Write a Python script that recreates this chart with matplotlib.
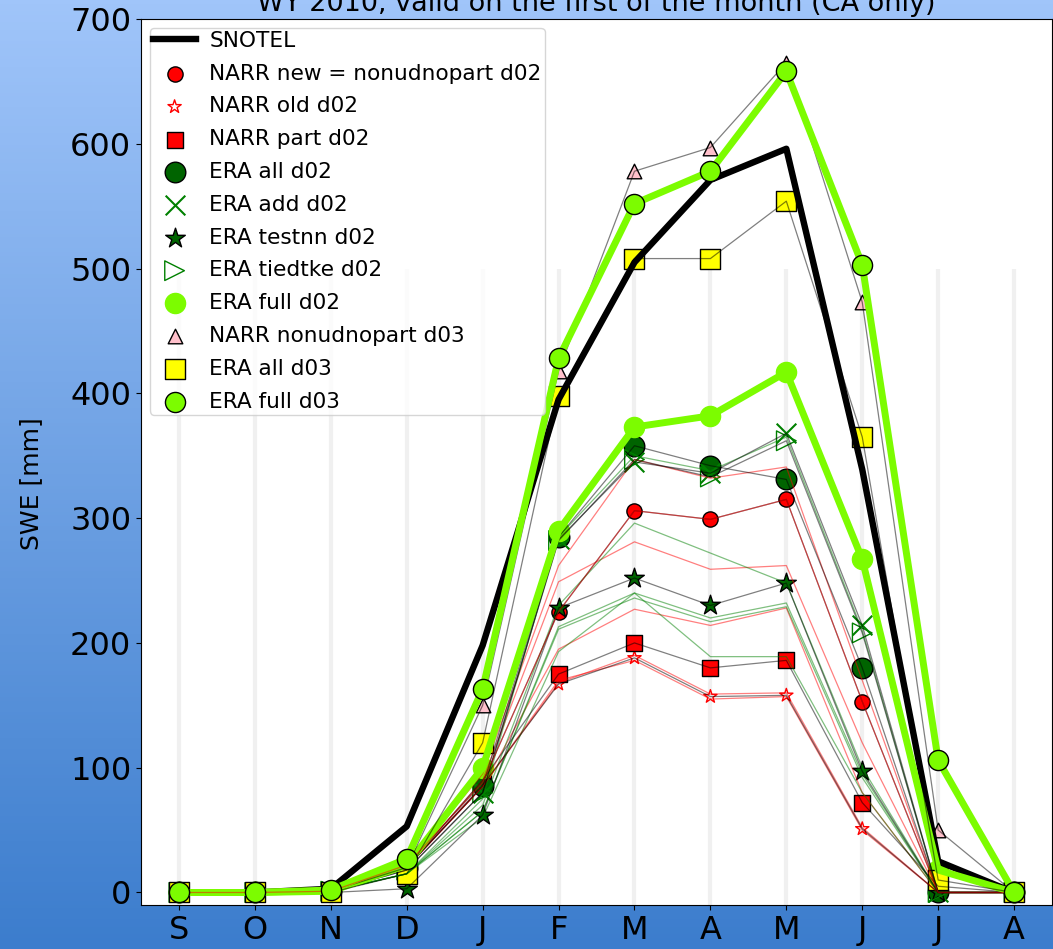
"""SWE by month, WY 2010, SNOTEL against the NARR and ERA runs."""

import matplotlib
matplotlib.use("Agg")
import matplotlib.pyplot as plt
import numpy as np


MONTHS = ["S", "O", "N", "D", "J", "F", "M", "A", "M", "J", "J", "A"]

snotel = [0, 0, 3, 53, 198, 395, 505, 571, 596, 339, 25, 0]
narr_new_d02 = [0, 0, 1, 22, 88, 225, 306, 299, 315, 153, 0, 0]
narr_old_d02 = [0, 0, 1, 20, 86, 167, 188, 157, 158, 51, 0, 0]
narr_part_d02 = [0, 0, 1, 20, 90, 175, 200, 180, 186, 72, 5, 0]
era_all_d02 = [0, 0, 1, 20, 85, 285, 358, 342, 331, 180, 0, 0]
era_add_d02 = [0, 0, 1, 18, 80, 283, 345, 336, 368, 214, 0, 0]
era_testnn_d02 = [0, 0, 0, 3, 62, 228, 252, 230, 248, 97, 0, 0]
era_tiedtke_d02 = [0, 0, 1, 18, 80, 282, 347, 333, 362, 208, 0, 0]
era_full_d02 = [0, 0, 1, 22, 100, 290, 373, 382, 417, 267, 18, 0]
narr_nonudnopart_d03 = [0, 0, 1, 20, 150, 418, 578, 597, 665, 473, 50, 0]
era_all_d03 = [0, 0, 0, 15, 120, 398, 508, 508, 554, 365, 10, 0]
era_full_d03 = [0, 0, 2, 27, 163, 428, 552, 578, 658, 503, 106, 0]

# unlabelled test runs, thin lines only
narr_tests = [
    [0, 0, 1, 22, 95, 262, 347, 332, 341, 170, 0, 0],
    [0, 0, 1, 20, 90, 249, 281, 259, 262, 120, 0, 0],
    [0, 0, 1, 20, 85, 195, 227, 214, 228, 80, 0, 0],
    [0, 0, 1, 20, 85, 170, 186, 155, 157, 50, 0, 0],
    [0, 0, 1, 20, 85, 168, 190, 159, 160, 52, 0, 0],
]
era_tests = [
    [0, 0, 1, 15, 75, 285, 350, 338, 365, 210, 0, 0],
    [0, 0, 1, 15, 70, 230, 296, 272, 248, 100, 0, 0],
    [0, 0, 1, 15, 65, 213, 240, 220, 232, 95, 0, 0],
    [0, 0, 1, 15, 65, 211, 236, 217, 229, 92, 0, 0],
    [0, 0, 1, 15, 60, 193, 240, 189, 189, 80, 0, 0],
]

x = np.arange(len(MONTHS))

fig = plt.figure(figsize=(10.53, 9.49), dpi=100)

# blue gradient behind everything
bg = fig.add_axes([0, 0, 1, 1], zorder=-10)
top = np.array([160, 197, 250]) / 255
bottom = np.array([60, 125, 205]) / 255
frac = np.linspace(0, 1, 256)[:, None, None]
bg.imshow(top + (bottom - top) * frac, aspect="auto", extent=[0, 1, 0, 1])
bg.axis("off")

ax = fig.add_axes([0.1339, 0.0464, 0.8652, 0.9336])
ax.vlines(x, -10, 500, color="0.94", lw=3, zorder=0)

ax.plot(x, snotel, color="black", lw=4.6, label="SNOTEL")

series = [
    (narr_new_d02, dict(marker="o", s=120, c="red", edgecolors="black"),
     "NARR new = nonudnopart d02"),
    (narr_old_d02, dict(marker="*", s=100, facecolors="none",
                        edgecolors="red"), "NARR old d02"),
    (narr_part_d02, dict(marker="s", s=130, c="red", edgecolors="black"),
     "NARR part d02"),
    (era_all_d02, dict(marker="o", s=220, c="darkgreen", edgecolors="black"),
     "ERA all d02"),
    (era_add_d02, dict(marker="x", s=200, c="green", linewidths=1.5),
     "ERA add d02"),
    (era_testnn_d02, dict(marker="*", s=220, c="darkgreen",
                          edgecolors="black"), "ERA testnn d02"),
    (era_tiedtke_d02, dict(marker=">", s=200, facecolors="none",
                           edgecolors="green"), "ERA tiedtke d02"),
    (era_full_d02, dict(marker="o", s=210, c="lawngreen"), "ERA full d02"),
    (narr_nonudnopart_d03, dict(marker="^", s=110, c="pink",
                                edgecolors="black"), "NARR nonudnopart d03"),
    (era_all_d03, dict(marker="s", s=190, c="yellow", edgecolors="black"),
     "ERA all d03"),
    (era_full_d03, dict(marker="o", s=210, c="lawngreen", edgecolors="black",
                        zorder=3), "ERA full d03"),
]

for vals, style, name in series:
    ax.scatter(x, vals, label=name, **style)

for vals in narr_tests:
    ax.plot(x, vals, color="red", lw=0.9, alpha=0.5)
for vals in era_tests:
    ax.plot(x, vals, color="green", lw=0.9, alpha=0.5)

for vals, style, name in series:
    if "full" in name:
        ax.plot(x, vals, color="lawngreen", lw=5)
    else:
        ax.plot(x, vals, color="black", lw=0.9, alpha=0.5)
ax.plot(x, narr_new_d02, color="red", lw=0.9, alpha=0.5)

ax.set_xlim(-0.5, 11.5)
ax.set_ylim(-10, 700)
ax.set_xticks(x)
ax.set_xticklabels(MONTHS)
ax.set_yticks(np.arange(0, 701, 100))
ax.tick_params(labelsize=23)
ax.set_ylabel("SWE [mm]", fontsize=18)
ax.yaxis.set_label_coords(-0.108, 0.475)
ax.set_title("WY 2010, valid on the first of the month (CA only)",
             fontsize=19.5)
ax.legend(loc="upper left", fontsize=15.6, scatterpoints=1,
          borderpad=0.15, borderaxespad=0.4, labelspacing=0.59,
          handletextpad=0.6)

fig.savefig("out.png", dpi=100)
